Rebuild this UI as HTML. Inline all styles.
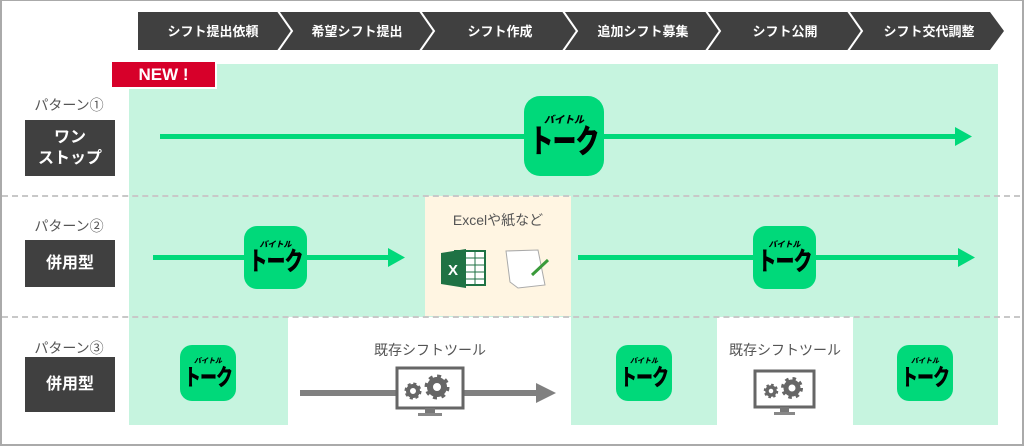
<!DOCTYPE html>
<html><head><meta charset="utf-8"><style>
*{margin:0;padding:0;box-sizing:border-box}
body{width:1024px;height:446px;background:#fff;position:relative;overflow:hidden;font-family:"Liberation Sans","Noto Sans CJK JP",sans-serif}
.a{position:absolute}
.frame{left:0;top:0;width:1024px;height:446px;border:2px solid #aaa;border-top-width:1px}
.g{background:#c6f4df}
.lbl{color:#555;font-size:14px;text-align:center;width:100px;left:19px}
.box{background:#404040;color:#fff;font-weight:bold;font-size:16px;text-align:center;display:flex;align-items:center;justify-content:center;line-height:21px;left:25px;width:90px}
.logo{background:#00d97a;display:flex;flex-direction:column;align-items:center;justify-content:center;color:#000;font-weight:900;white-space:nowrap;overflow:hidden}
.logo span{display:block;white-space:nowrap}
.logo .m{transform:scaleY(1.35)}
.dash{left:2px;width:1018px;border-top:2px dashed #c8c8c8;height:0}
.cap{color:#555;font-size:14px;text-align:center}
</style></head><body>
<div class="a frame"></div>
<div class="a g" style="left:129px;top:64px;width:869px;height:361px"></div>
<div class="a" style="left:425px;top:196px;width:146px;height:120px;background:#fff5e2"></div>
<div class="a" style="left:288px;top:317px;width:283px;height:115px;background:#fff"></div>
<div class="a" style="left:717px;top:317px;width:136px;height:115px;background:#fff"></div>
<div class="a dash" style="top:195px"></div>
<div class="a dash" style="top:316px"></div>

<svg class="a" style="left:0;top:0" width="1024" height="60">
<polygon points="138,12 990,12 1004,31 990,50 138,50" fill="#404040"/>
<g stroke="#fff" stroke-width="2" fill="none">
<polyline points="278,11 292,31 278,51"/>
<polyline points="420,11 434,31 420,51"/>
<polyline points="563,11 577,31 563,51"/>
<polyline points="706,11 720,31 706,51"/>
<polyline points="848,11 862,31 848,51"/>
</g>
<g fill="#fff" font-size="13" font-weight="bold" text-anchor="middle" font-family="Liberation Sans, Noto Sans CJK JP, sans-serif">
<text x="213" y="36">シフト提出依頼</text>
<text x="357" y="36">希望シフト提出</text>
<text x="500" y="36">シフト作成</text>
<text x="643" y="36">追加シフト募集</text>
<text x="785" y="36">シフト公開</text>
<text x="929" y="36">シフト交代調整</text>
</g>
</svg>

<div class="a" style="left:110px;top:60px;width:107px;height:29px;background:#d7002a;border:2px solid #fff;color:#fff;font-weight:bold;font-size:17px;text-align:center;line-height:25px">NEW !</div>

<div class="a lbl" style="top:95px">パターン①</div>
<div class="a box" style="top:120px;height:56px">ワン<br>ストップ</div>
<div class="a lbl" style="top:216px">パターン②</div>
<div class="a box" style="top:240px;height:47px">併用型</div>
<div class="a lbl" style="top:338px">パターン③</div>
<div class="a box" style="top:357px;height:55px">併用型</div>

<svg class="a" style="left:0;top:0" width="1024" height="446">
<g fill="#00d97a" stroke="none">
<rect x="160" y="134" width="800" height="5"/><polygon points="955,127 972,136.5 955,146"/>
<rect x="153" y="255" width="240" height="5"/><polygon points="388,248 405,257.5 388,267"/>
<rect x="578" y="255" width="385" height="5"/><polygon points="958,248 975,257.5 958,267"/>
</g>
<g fill="#808080"><rect x="300" y="390" width="240" height="6"/><polygon points="536,383 556,393 536,403"/></g>
<g>
<rect x="397" y="368" width="66" height="40" fill="#fff" stroke="#666" stroke-width="3"/>
<rect x="425" y="408" width="10" height="5" fill="#777"/><rect x="418" y="413" width="24" height="3" fill="#888"/>
<circle cx="413" cy="391" r="5" fill="none" stroke="#666" stroke-width="4"/><circle cx="413" cy="391" r="7" fill="none" stroke="#666" stroke-width="3" stroke-dasharray="3 2.5"/>
<circle cx="437" cy="387" r="7" fill="none" stroke="#666" stroke-width="6"/><circle cx="437" cy="387" r="11" fill="none" stroke="#666" stroke-width="3" stroke-dasharray="4 4.6"/>
</g>
<g>
<rect x="755" y="371" width="59" height="36" fill="#fff" stroke="#666" stroke-width="3"/>
<rect x="780" y="407" width="9" height="5" fill="#777"/><rect x="774" y="412" width="21" height="3" fill="#888"/>
<circle cx="771" cy="391" r="4" fill="none" stroke="#666" stroke-width="3.5"/><circle cx="771" cy="391" r="6" fill="none" stroke="#666" stroke-width="2.5" stroke-dasharray="2.5 2.2"/>
<circle cx="792" cy="388" r="6" fill="none" stroke="#666" stroke-width="5"/><circle cx="792" cy="388" r="9.5" fill="none" stroke="#666" stroke-width="3" stroke-dasharray="3.5 4"/>
</g>
<rect x="455" y="251" width="30" height="34" fill="#fff" stroke="#1f7244" stroke-width="2"/>
<g stroke="#1f7244" stroke-width="1"><line x1="466" y1="258" x2="484" y2="258"/><line x1="466" y1="265" x2="484" y2="265"/><line x1="466" y1="272" x2="484" y2="272"/><line x1="466" y1="279" x2="484" y2="279"/><line x1="475" y1="252" x2="475" y2="284"/></g>
<polygon points="441,253 466,249 466,288 441,284" fill="#1f7244"/>
<text x="453" y="275" fill="#fff" font-size="15" font-weight="bold" text-anchor="middle" font-family="Liberation Sans,sans-serif">X</text>
<path d="M506,251 L538,250 L545,285 L518,288 L510,282 Z" fill="#fff" stroke="#aaa" stroke-width="1"/>
<line x1="532" y1="275" x2="548" y2="260" stroke="#3a9a3a" stroke-width="3"/>
</svg>

<div class="a cap" style="left:425px;top:210px;width:146px">Excelや紙など</div>
<div class="a cap" style="left:300px;top:340px;width:260px">既存シフトツール</div>
<div class="a cap" style="left:717px;top:340px;width:136px">既存シフトツール</div>

<div class="a logo" style="left:524px;top:96px;width:80px;height:80px;border-radius:16px"><span style="font-size:10px;font-style:italic;line-height:13px">バイトル</span><span class="m" style="font-size:24px;line-height:32px;letter-spacing:-1px">トーク</span></div>
<div class="a logo" style="left:244px;top:226px;width:63px;height:63px;border-radius:13px"><span style="font-size:8px;font-style:italic;line-height:10px">バイトル</span><span class="m" style="font-size:19px;line-height:25px;letter-spacing:-1px">トーク</span></div>
<div class="a logo" style="left:753px;top:226px;width:63px;height:63px;border-radius:13px"><span style="font-size:8px;font-style:italic;line-height:10px">バイトル</span><span class="m" style="font-size:19px;line-height:25px;letter-spacing:-1px">トーク</span></div>
<div class="a logo" style="left:180px;top:345px;width:56px;height:56px;border-radius:12px"><span style="font-size:7px;font-style:italic;line-height:9px">バイトル</span><span class="m" style="font-size:17px;line-height:23px;letter-spacing:-1px">トーク</span></div>
<div class="a logo" style="left:616px;top:345px;width:56px;height:56px;border-radius:12px"><span style="font-size:7px;font-style:italic;line-height:9px">バイトル</span><span class="m" style="font-size:17px;line-height:23px;letter-spacing:-1px">トーク</span></div>
<div class="a logo" style="left:897px;top:345px;width:56px;height:56px;border-radius:12px"><span style="font-size:7px;font-style:italic;line-height:9px">バイトル</span><span class="m" style="font-size:17px;line-height:23px;letter-spacing:-1px">トーク</span></div>
</body></html>
